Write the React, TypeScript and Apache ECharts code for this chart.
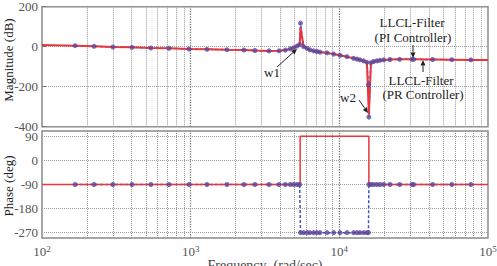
import React, { useEffect, useRef } from "react";
import * as echarts from "echarts";

// ---- data ----
const blueFreq = [
  167, 224, 300, 403, 540, 714, 975, 1288, 1754, 2282,
  2704, 3365, 3927, 4330, 4675, 4930, 5190, 5410, 5480, 5750,
  6060, 6345, 6720, 7070, 7410, 8260, 9160, 10100, 11250, 12470,
  13130, 13760, 14560, 15330, 15700, 15800, 16310, 17010, 17900, 18760,
  19870, 21900, 25440, 30790, 31600, 42400, 57100, 76700,
];
const blueMag = [
  5, 2, -1.5, -3, -6.5, -8, -11.5, -13, -15, -16.5,
  -19, -21, -20.5, -17, -11, -5, 3, 11, 118, 0,
  -8, -16, -21, -24, -27, -31, -37, -43, -50, -58,
  -62, -66, -71, -78, -190, -352, -80, -74, -71, -68,
  -66, -64, -63, -63, -63, -64, -65, -66,
];
const bluePhase = [
  -90, -90, -90, -90, -90, -90, -90, -90, -90, -90,
  -90, -90, -90, -90, -90, -90, -90, -90, -270, -270,
  -270, -270, -270, -270, -270, -270, -270, -270, -270, -270,
  -270, -270, -270, -270, -270, -90, -90, -90, -90, -90,
  -90, -90, -90, -90, -90, -90, -90, -90,
];
const redFreq = [
  100, 167, 224, 300, 403, 540, 714, 975, 1288, 1754,
  2282, 2704, 3365, 3927, 4330, 4675, 4930, 5190, 5410, 5480,
  5750, 6060, 6345, 6720, 7070, 7410, 8260, 9160, 10100, 11250,
  12470, 13130, 13760, 14560, 15330, 15800, 16310, 17010, 17900, 18760,
  19870, 21900, 25440, 30790, 31600, 42400, 57100, 76700, 100000,
];
const redMag = [
  8, 5, 2, -1.5, -3, -6.5, -8, -11.5, -13, -15,
  -16.5, -19, -21, -20.5, -17, -11, -5, 3, 11, 95,
  0, -8, -16, -21, -24, -27, -31, -37, -43, -50,
  -58, -62, -66, -71, -78, -340, -80, -74, -71, -68,
  -66, -64, -63, -63, -63, -64, -65, -66, -67,
];
const redPhaseFreq = [100, 5450, 5450, 15800, 15800, 100000];
const redPhase = [-90, -90, 90, 90, -90, -90];

const xGridMinor = [
  200, 300, 400, 500, 600, 700, 800, 900,
  2000, 3000, 4000, 5000, 6000, 7000, 8000, 9000,
  20000, 30000, 40000, 50000, 60000, 70000, 80000, 90000,
];
const xGridMajor = [1000, 10000];
const phaseTicks = [-270, -180, -90, 0, 90];

const SERIF = '"Liberation Serif", "Times New Roman", serif';
const RED = "#e8363c";
const BLUE = "#3d52c4";
const MARK = "#5b479f";
const GRIDC = "#9a9a9a";
const LABELC = "#555";

const pairs = (xs: number[], ys: number[]) => xs.map((x, i) => [x, ys[i]]);

function arrow(x1: number, y1: number, x2: number, y2: number) {
  const a = Math.atan2(y2 - y1, x2 - x1);
  const L = 5.5, W = 2.5;
  const bx = x2 - L * Math.cos(a), by = y2 - L * Math.sin(a);
  return [
    { type: "line", shape: { x1, y1, x2: bx, y2: by }, style: { stroke: "#222", lineWidth: 1 }, z: 100 },
    {
      type: "polygon",
      shape: {
        points: [
          [x2, y2],
          [bx + W * Math.sin(a), by - W * Math.cos(a)],
          [bx - W * Math.sin(a), by + W * Math.cos(a)],
        ],
      },
      style: { fill: "#222" },
      z: 100,
    },
  ];
}

function txt(x: number, y: number, text: string, size = 13, rotation = 0) {
  return {
    type: "text",
    x,
    y,
    rotation,
    z: 100,
    style: {
      text,
      fill: "#222",
      fontFamily: SERIF,
      fontSize: size,
      align: "center",
      verticalAlign: "middle",
    },
  };
}

function gridMarkLine(horizontal: number[]) {
  return {
    silent: true,
    z: 1,
    symbol: "none",
    label: { show: false },
    data: [
      ...xGridMinor.map((v) => ({ xAxis: v, lineStyle: { color: GRIDC, type: "dotted", width: 1 } })),
      ...xGridMajor.map((v) => ({ xAxis: v, lineStyle: { color: "#777", type: "dotted", width: 1.3 } })),
      ...horizontal.map((v) => ({ yAxis: v, lineStyle: { color: GRIDC, type: "dotted", width: 1 } })),
    ],
  };
}

export default function App() {
  const ref = useRef<HTMLDivElement>(null);
  useEffect(() => {
    const chart = echarts.init(ref.current!, null, { renderer: "svg" });
    const xCommon = {
      type: "log",
      logBase: 10,
      min: 100,
      max: 100000,
      axisLine: { show: false },
      axisTick: { show: false },
      splitLine: { show: false },
      minorTick: { show: false },
    };
    const option = {
      animation: false,
      backgroundColor: "#fff",
      grid: [
        {
          left: 42, right: 9, top: 6.7, height: 120, show: true,
          borderColor: "#8a8a8a", borderWidth: 1.5, containLabel: false, outerBoundsMode: "none",
        },
        {
          left: 42, right: 9, top: 131, height: 107, show: true,
          borderColor: "#8a8a8a", borderWidth: 1.5, containLabel: false, outerBoundsMode: "none",
        },
      ],
      xAxis: [
        { ...xCommon, gridIndex: 0, axisLabel: { show: false } },
        {
          ...xCommon,
          gridIndex: 1,
          axisLabel: {
            color: LABELC,
            fontFamily: SERIF,
            fontSize: 13,
            margin: 6,
            formatter: (v: number) => "10{sup|" + Math.round(Math.log10(v)) + "}",
            rich: { sup: { fontSize: 9, fontFamily: SERIF, color: LABELC, verticalAlign: "top", padding: [0, 0, 6, 0] } },
          },
          name: "Frequency  (rad/sec)",
          nameLocation: "middle",
          nameGap: 17,
          nameTextStyle: { color: "#444", fontFamily: SERIF, fontSize: 14 },
        },
      ],
      yAxis: [
        {
          type: "value",
          gridIndex: 0,
          min: -400,
          max: 200,
          interval: 200,
          axisLine: { show: false },
          axisTick: { show: true, inside: true, length: 4, lineStyle: { color: "#777" } },
          axisLabel: { color: LABELC, fontFamily: SERIF, fontSize: 13, margin: 4 },
          splitLine: { show: true, lineStyle: { color: GRIDC, type: "dotted" } },
        },
        {
          type: "value",
          gridIndex: 1,
          min: -290,
          max: 110,
          interval: 10,
          axisLine: { show: false },
          axisTick: { show: false },
          axisLabel: {
            color: LABELC,
            fontFamily: SERIF,
            fontSize: 13,
            margin: 4,
            formatter: (v: number) => (phaseTicks.indexOf(Math.round(v)) >= 0 ? String(Math.round(v)) : ""),
          },
          splitLine: { show: false },
        },
      ],
      series: [
        // magnitude
        {
          type: "line", xAxisIndex: 0, yAxisIndex: 0, z: 2,
          data: pairs(blueFreq, blueMag), showSymbol: false,
          lineStyle: { color: BLUE, width: 1.5, type: [3, 2] },
          markLine: gridMarkLine([]),
        },
        {
          type: "line", xAxisIndex: 0, yAxisIndex: 0, z: 3,
          data: pairs(redFreq, redMag), showSymbol: false,
          lineStyle: { color: RED, width: 2 },
        },
        {
          type: "scatter", xAxisIndex: 0, yAxisIndex: 0, z: 4,
          data: pairs(blueFreq, blueMag), symbol: "circle", symbolSize: 5,
          itemStyle: { color: MARK },
        },
        // phase
        {
          type: "line", xAxisIndex: 1, yAxisIndex: 1, z: 2,
          data: pairs(blueFreq, bluePhase), showSymbol: false,
          lineStyle: { color: BLUE, width: 1.5, type: [3, 2] },
          markLine: gridMarkLine(phaseTicks),
        },
        {
          type: "line", xAxisIndex: 1, yAxisIndex: 1, z: 3,
          data: pairs(redPhaseFreq, redPhase), showSymbol: false,
          lineStyle: { color: RED, width: 1.5 },
        },
        {
          type: "scatter", xAxisIndex: 1, yAxisIndex: 1, z: 4,
          data: pairs(blueFreq, bluePhase), symbol: "circle", symbolSize: 5,
          itemStyle: { color: MARK },
        },
      ],
      graphic: [
        txt(8, 60, "Magnitude (dB)", 13, Math.PI / 2),
        txt(8, 186, "Phase (deg)", 13, Math.PI / 2),
        txt(272, 72, "w1"),
        txt(348, 97, "w2"),
        txt(412, 22, "LLCL-Filter"),
        txt(413, 37, "(PI Controller)"),
        txt(421, 80, "LLCL-Filter"),
        txt(423, 94, "(PR Controller)"),
        ...arrow(277, 67, 297, 49),
        ...arrow(359, 100, 368, 113),
        ...arrow(413, 45, 413, 58),
        ...arrow(423, 72, 423, 60),
      ],
    };
    chart.setOption(option as any);
    return () => chart.dispose();
  }, []);
  return <div ref={ref} style={{ position: "absolute", left: 0, top: 0, width: 497, height: 266 }} />;
}
